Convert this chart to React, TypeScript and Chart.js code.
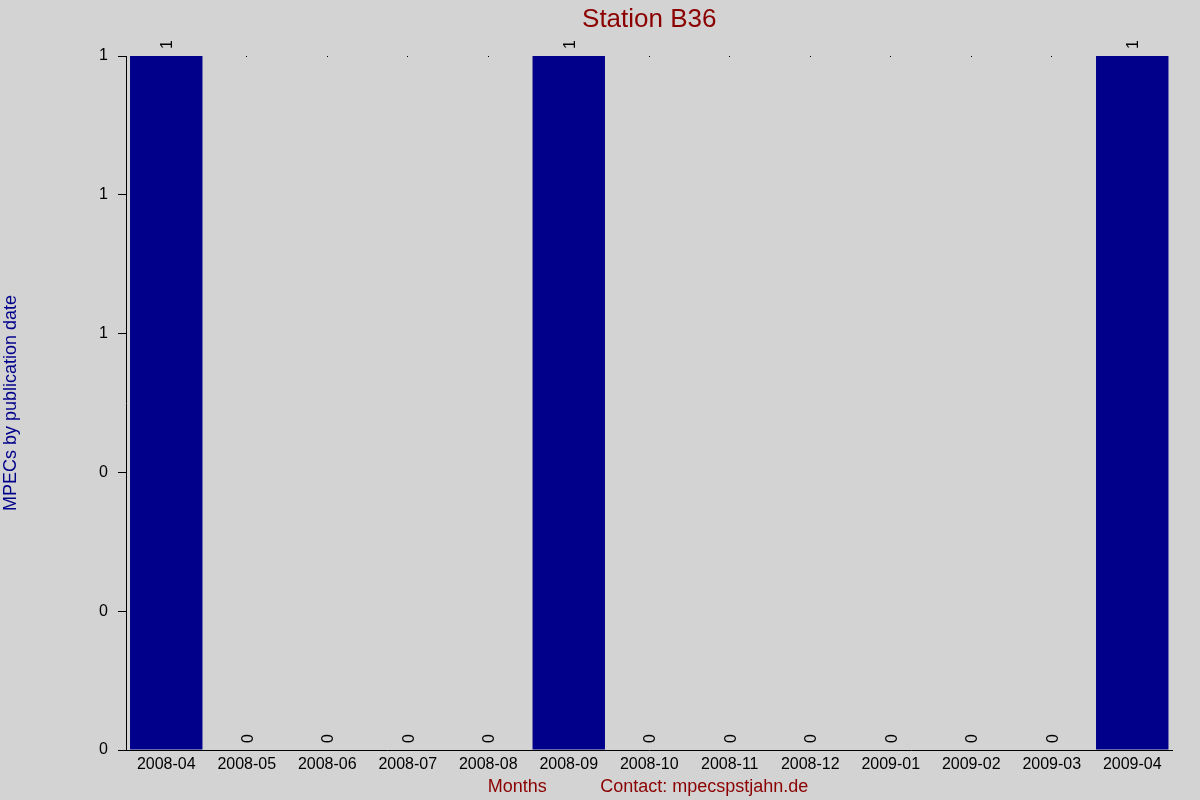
import React, { useRef, useEffect } from 'react';
import { Chart, registerables } from 'chart.js';

Chart.register(...registerables);

// Monthly MPEC counts for the station
const MONTHS = [
  '2008-04', '2008-05', '2008-06', '2008-07', '2008-08', '2008-09', '2008-10',
  '2008-11', '2008-12', '2009-01', '2009-02', '2009-03', '2009-04',
];
const MPEC_COUNTS = [1, 0, 0, 0, 0, 1, 0, 0, 0, 0, 0, 0, 1];
const Y_MIN = 0;
const Y_MAX = 1;
const Y_STEP = 0.2;

const TITLE = 'Station B36';
const Y_TITLE = 'MPECs by publication date';
const X_TITLE = 'Months';
const CONTACT = 'Contact: mpecspstjahn.de';

const FONT = '"Liberation Sans", Arial, sans-serif';
const DARK_RED = '#8B0000';
const DARK_BLUE = '#00008B';

// Draws the rotated value labels, titles and the small markers at the top
const decorPlugin = {
  id: 'decor',
  afterDatasetsDraw(chart) {
    const { ctx, chartArea } = chart;
    const meta = chart.getDatasetMeta(0);
    ctx.save();
    ctx.font = `16px ${FONT}`;
    ctx.fillStyle = '#000';
    meta.data.forEach((bar, i) => {
      const v = MPEC_COUNTS[i];
      ctx.save();
      ctx.translate(bar.x, bar.y - 7);
      ctx.rotate(-Math.PI / 2);
      ctx.textAlign = 'left';
      ctx.textBaseline = 'alphabetic';
      ctx.fillText(String(v), 0, 6);
      ctx.restore();
      if (v === 0) {
        ctx.fillRect(Math.floor(bar.x), Math.floor(chartArea.top), 1, 1);
      }
    });

    const mid = (chartArea.left + chartArea.right) / 2;
    ctx.textBaseline = 'alphabetic';
    ctx.textAlign = 'center';
    ctx.fillStyle = DARK_RED;
    ctx.font = `26px ${FONT}`;
    ctx.fillText(TITLE, mid, 27);

    ctx.font = `18px ${FONT}`;
    ctx.fillText(X_TITLE, mid - 132, 792);
    ctx.fillText(CONTACT, mid + 55, 792);
    ctx.restore();
  },
};

export default function App() {
  const canvasRef = useRef<HTMLCanvasElement>(null);
  const chartRef = useRef<Chart | null>(null);

  useEffect(() => {
    document.body.style.margin = '0';
    const ctx = canvasRef.current?.getContext('2d');
    if (!ctx) return;
    if (chartRef.current) chartRef.current.destroy();

    chartRef.current = new Chart(ctx, {
      type: 'bar',
      data: {
        labels: MONTHS,
        datasets: [
          {
            label: 'MPECs',
            data: MPEC_COUNTS,
            backgroundColor: DARK_BLUE,
            borderWidth: 0,
            barPercentage: 0.9,
            categoryPercentage: 1.0,
          },
        ],
      },
      options: {
        animation: false,
        responsive: false,
        maintainAspectRatio: false,
        layout: { padding: { top: 56, right: 27.5, left: 0, bottom: 0 } },
        plugins: {
          legend: { display: false },
          title: { display: false },
          tooltip: { enabled: false },
        },
        scales: {
          x: {
            afterFit: (scale) => { scale.height = 50; },
            grid: { display: false, drawTicks: false },
            border: { display: true, color: '#000', width: 1 },
            ticks: { color: '#000', font: { family: FONT, size: 16 }, padding: 5, maxRotation: 0, autoSkip: false },
          },
          y: {
            min: Y_MIN,
            max: Y_MAX,
            afterFit: (scale) => { scale.width = 126; },
            grid: { drawOnChartArea: false, drawTicks: true, tickLength: 8, color: '#000' },
            border: { display: true, color: '#000', width: 1 },
            ticks: {
              stepSize: Y_STEP,
              padding: 10,
              color: '#000',
              font: { family: FONT, size: 16 },
              callback: (value) => String(Math.round(Number(value))),
            },
            title: {
              display: true,
              text: Y_TITLE,
              color: DARK_BLUE,
              font: { family: FONT, size: 18 },
              padding: 0,
            },
          },
        },
      },
      plugins: [decorPlugin],
    });

    return () => {
      if (chartRef.current) {
        chartRef.current.destroy();
        chartRef.current = null;
      }
    };
  }, []);

  return (
    <div style={{ width: 1200, height: 800, background: '#D3D3D3' }}>
      <canvas ref={canvasRef} width={1200} height={800} style={{ display: 'block' }}></canvas>
    </div>
  );
}
